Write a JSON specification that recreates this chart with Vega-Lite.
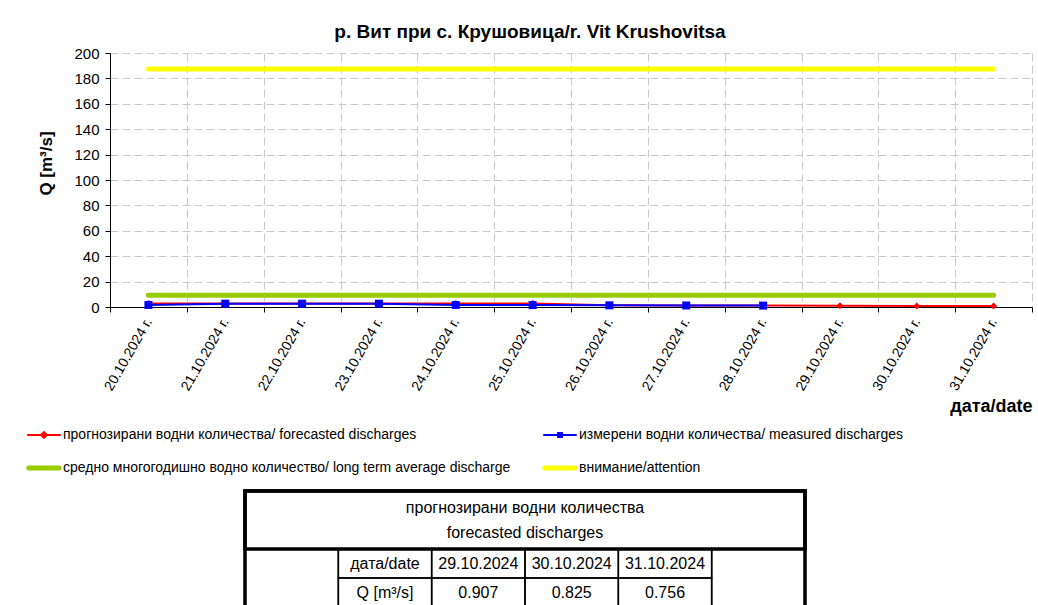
{
  "$schema": "https://vega.github.io/schema/vega-lite/v6.json",
  "width": 922,
  "height": 254,
  "autosize": {"type": "none"},
  "padding": {"left": 110, "top": 53, "right": 6, "bottom": 298},
  "background": "white",
  "config": {
    "font": "Liberation Sans",
    "view": {"stroke": null},
    "axis": {"labelColor": "black", "titleColor": "black", "domainColor": "black", "tickColor": "black", "gridColor": "#C8C8C8", "gridDash": [8, 4], "gridWidth": 1, "tickSize": 5, "domainWidth": 1}
  },
  "title": {
    "text": "р. Вит при с. Крушовица/r. Vit Krushovitsa",
    "font": "Liberation Sans",
    "fontSize": 19,
    "fontWeight": "bold",
    "color": "black",
    "anchor": "middle",
    "frame": "group",
    "dx": -41,
    "offset": 4
  },
  "datasets": {
    "series": [
      {"date": "20.10.2024 г.", "series": "attention", "q": 187.4},
      {"date": "21.10.2024 г.", "series": "attention", "q": 187.4},
      {"date": "22.10.2024 г.", "series": "attention", "q": 187.4},
      {"date": "23.10.2024 г.", "series": "attention", "q": 187.4},
      {"date": "24.10.2024 г.", "series": "attention", "q": 187.4},
      {"date": "25.10.2024 г.", "series": "attention", "q": 187.4},
      {"date": "26.10.2024 г.", "series": "attention", "q": 187.4},
      {"date": "27.10.2024 г.", "series": "attention", "q": 187.4},
      {"date": "28.10.2024 г.", "series": "attention", "q": 187.4},
      {"date": "29.10.2024 г.", "series": "attention", "q": 187.4},
      {"date": "30.10.2024 г.", "series": "attention", "q": 187.4},
      {"date": "31.10.2024 г.", "series": "attention", "q": 187.4},
      {"date": "20.10.2024 г.", "series": "average", "q": 9.3},
      {"date": "21.10.2024 г.", "series": "average", "q": 9.3},
      {"date": "22.10.2024 г.", "series": "average", "q": 9.3},
      {"date": "23.10.2024 г.", "series": "average", "q": 9.3},
      {"date": "24.10.2024 г.", "series": "average", "q": 9.3},
      {"date": "25.10.2024 г.", "series": "average", "q": 9.3},
      {"date": "26.10.2024 г.", "series": "average", "q": 9.3},
      {"date": "27.10.2024 г.", "series": "average", "q": 9.3},
      {"date": "28.10.2024 г.", "series": "average", "q": 9.3},
      {"date": "29.10.2024 г.", "series": "average", "q": 9.3},
      {"date": "30.10.2024 г.", "series": "average", "q": 9.3},
      {"date": "31.10.2024 г.", "series": "average", "q": 9.3},
      {"date": "20.10.2024 г.", "series": "forecast", "q": 2.7},
      {"date": "21.10.2024 г.", "series": "forecast", "q": 2.7},
      {"date": "22.10.2024 г.", "series": "forecast", "q": 2.7},
      {"date": "23.10.2024 г.", "series": "forecast", "q": 2.7},
      {"date": "24.10.2024 г.", "series": "forecast", "q": 2.7},
      {"date": "25.10.2024 г.", "series": "forecast", "q": 2.7},
      {"date": "26.10.2024 г.", "series": "forecast", "q": 1.3},
      {"date": "27.10.2024 г.", "series": "forecast", "q": 1.2},
      {"date": "28.10.2024 г.", "series": "forecast", "q": 1.1},
      {"date": "29.10.2024 г.", "series": "forecast", "q": 0.907},
      {"date": "30.10.2024 г.", "series": "forecast", "q": 0.825},
      {"date": "31.10.2024 г.", "series": "forecast", "q": 0.756},
      {"date": "20.10.2024 г.", "series": "measured", "q": 1.6},
      {"date": "21.10.2024 г.", "series": "measured", "q": 2.6},
      {"date": "22.10.2024 г.", "series": "measured", "q": 2.6},
      {"date": "23.10.2024 г.", "series": "measured", "q": 2.6},
      {"date": "24.10.2024 г.", "series": "measured", "q": 1.6},
      {"date": "25.10.2024 г.", "series": "measured", "q": 1.5},
      {"date": "26.10.2024 г.", "series": "measured", "q": 1.3},
      {"date": "27.10.2024 г.", "series": "measured", "q": 1.2},
      {"date": "28.10.2024 г.", "series": "measured", "q": 1.1}
    ],
    "cells": [
      {"part": "thick", "c0": 0, "c1": 6, "r0": 0, "r1": 4},
      {"part": "thick", "c0": 0, "c1": 6, "r0": 0, "r1": 2},
      {"part": "thin", "c0": 0, "c1": 1, "r0": 2, "r1": 4},
      {"part": "thin", "c0": 1, "c1": 2, "r0": 2, "r1": 3},
      {"part": "thin", "c0": 2, "c1": 3, "r0": 2, "r1": 3},
      {"part": "thin", "c0": 3, "c1": 4, "r0": 2, "r1": 3},
      {"part": "thin", "c0": 4, "c1": 5, "r0": 2, "r1": 3},
      {"part": "thin", "c0": 1, "c1": 2, "r0": 3, "r1": 4},
      {"part": "thin", "c0": 2, "c1": 3, "r0": 3, "r1": 4},
      {"part": "thin", "c0": 3, "c1": 4, "r0": 3, "r1": 4},
      {"part": "thin", "c0": 4, "c1": 5, "r0": 3, "r1": 4},
      {"part": "thin", "c0": 5, "c1": 6, "r0": 2, "r1": 4}
    ],
    "texts": [
      {"label": "прогнозирани водни количества", "cx": 3, "ry": 0.6},
      {"label": "forecasted discharges", "cx": 3, "ry": 1.45},
      {"label": "дата/date", "cx": 1.5, "ry": 2.5},
      {"label": "29.10.2024", "cx": 2.5, "ry": 2.5},
      {"label": "30.10.2024", "cx": 3.5, "ry": 2.5},
      {"label": "31.10.2024", "cx": 4.5, "ry": 2.5},
      {"label": "Q [m³/s]", "cx": 1.5, "ry": 3.5},
      {"label": "0.907", "cx": 2.5, "ry": 3.5},
      {"label": "0.825", "cx": 3.5, "ry": 3.5},
      {"label": "0.756", "cx": 4.5, "ry": 3.5}
    ]
  },
  "layer": [
    {
      "data": {"name": "series"},
      "encoding": {
        "x": {
          "field": "date", "type": "ordinal", "title": "дата/date",
          "axis": {
            "tickBand": "extent", "grid": true, "labelAngle": -60, "labelFontSize": 14, "labelPadding": 7,
            "titleFontSize": 18, "titleFontWeight": "bold", "titleAnchor": "end", "titleAlign": "right",
            "titleBaseline": "alphabetic", "titleX": 922, "titleY": 104
          }
        },
        "y": {
          "field": "q", "type": "quantitative", "title": "Q [m³/s]",
          "scale": {"domain": [0, 200], "nice": false},
          "axis": {
            "values": [0, 20, 40, 60, 80, 100, 120, 140, 160, 180, 200], "grid": true, "labelFontSize": 15, "labelPadding": 6,
            "titleFontSize": 17, "titleFontWeight": "bold", "titleAngle": -90, "titleAlign": "center", "titleBaseline": "bottom",
            "titleX": -55, "titleY": 110
          }
        }
      },
      "layer": [
        {
          "transform": [{"filter": "datum.series == 'attention' || datum.series == 'average'"}],
          "mark": {"type": "line", "strokeWidth": 5, "strokeCap": "round"},
          "encoding": {
            "color": {
              "field": "series", "type": "nominal",
              "scale": {"domain": ["forecast", "measured", "average", "attention"], "range": ["#FF0000", "#0000FF", "#99CC00", "#FFFF00"]},
              "legend": {
                "orient": "none", "legendX": -73, "legendY": 375, "direction": "horizontal", "columns": 2, "title": null,
                "symbolSize": 1024, "labelFontSize": 14, "labelColor": "black", "labelOffset": 12, "columnPadding": 15, "rowPadding": 16,
                "labelLimit": 700, "padding": 0,
                "labelExpr": "datum.value == 'forecast' ? 'прогнозирани  водни количества/ forecasted discharges' : datum.value == 'measured' ? 'измерени водни количества/ measured discharges' : datum.value == 'average' ? 'средно многогодишно  водно количество/ long term average  discharge' : 'внимание/attention'",
                "encode": {
                  "symbols": {
                    "update": {
                      "shape": {"signal": "datum.value == 'forecast' ? 'M-1,0L1,0M-0.18,0L0,-0.18L0.18,0L0,0.18Z' : datum.value == 'measured' ? 'M-1,0L1,0M-0.12,-0.12L0.12,-0.12L0.12,0.12L-0.12,0.12Z' : 'M-0.95,0L0.95,0'"},
                      "fill": {"signal": "scale('color', datum.value)"},
                      "strokeWidth": {"signal": "datum.value == 'average' || datum.value == 'attention' ? 5 : 2"},
                      "strokeCap": {"value": "round"},
                      "opacity": {"value": 1}
                    }
                  }
                }
              }
            }
          }
        },
        {
          "transform": [{"filter": "datum.series == 'forecast'"}],
          "mark": {"type": "line", "strokeWidth": 2},
          "encoding": {"color": {"field": "series", "type": "nominal"}}
        },
        {
          "transform": [{"filter": "datum.series == 'measured'"}],
          "mark": {"type": "line", "strokeWidth": 2},
          "encoding": {"color": {"field": "series", "type": "nominal"}}
        },
        {
          "transform": [{"filter": "datum.series == 'forecast'"}],
          "mark": {"type": "point", "shape": "diamond", "filled": true, "size": 49, "color": "#FF0000", "opacity": 1}
        },
        {
          "transform": [{"filter": "datum.series == 'measured'"}],
          "mark": {"type": "point", "shape": "square", "filled": true, "size": 64, "color": "#0000FF", "opacity": 1}
        }
      ]
    },
    {
      "layer": [
        {
          "data": {"name": "cells"},
          "transform": [{"filter": "datum.part == 'thin'"}],
          "mark": {"type": "rect", "filled": false, "stroke": "black", "strokeWidth": 1.5},
          "encoding": {
            "x": {"field": "c0", "type": "quantitative", "axis": null, "scale": {"domain": [-1.4464, 8.4321], "nice": false, "zero": false}},
            "x2": {"field": "c1"},
            "y": {"field": "r0", "type": "quantitative", "axis": null, "scale": {"domain": [-15.103, -6.345], "reverse": true, "nice": false, "zero": false}},
            "y2": {"field": "r1"}
          }
        },
        {
          "data": {"name": "cells"},
          "transform": [{"filter": "datum.part == 'thick'"}],
          "mark": {"type": "rect", "filled": false, "stroke": "black", "strokeWidth": 3.5},
          "encoding": {
            "x": {"field": "c0", "type": "quantitative", "axis": null},
            "x2": {"field": "c1"},
            "y": {"field": "r0", "type": "quantitative", "axis": null},
            "y2": {"field": "r1"}
          }
        },
        {
          "data": {"name": "texts"},
          "mark": {"type": "text", "fontSize": 16, "color": "black", "align": "center", "baseline": "middle"},
          "encoding": {
            "x": {"field": "cx", "type": "quantitative", "axis": null},
            "y": {"field": "ry", "type": "quantitative", "axis": null},
            "text": {"field": "label"}
          }
        }
      ]
    }
  ],
  "resolve": {"scale": {"x": "independent", "y": "independent"}, "axis": {"x": "independent", "y": "independent"}}
}
